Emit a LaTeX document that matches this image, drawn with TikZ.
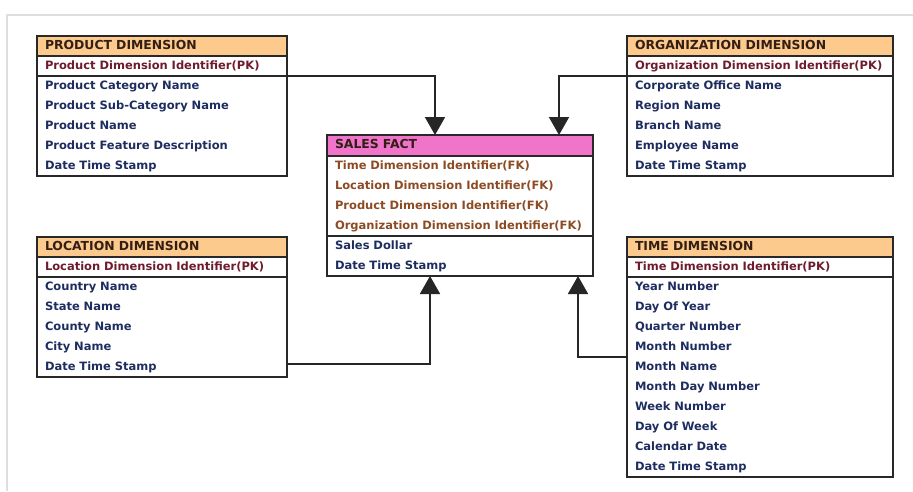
\documentclass[tikz,border=0pt]{standalone}
\usepackage{fontspec}
\setmainfont{DejaVu Sans}
\usetikzlibrary{arrows.meta,fit,calc}

\definecolor{edge}{RGB}{40,40,40}
\definecolor{dimhead}{RGB}{252,202,140}
\definecolor{facthead}{RGB}{240,116,202}
\definecolor{headtext}{RGB}{50,30,20}
\definecolor{pktext}{RGB}{110,28,45}
\definecolor{fktext}{RGB}{140,75,35}
\definecolor{fieldtext}{RGB}{30,45,95}
\definecolor{pageline}{RGB}{222,222,222}

\begin{document}
\begin{tikzpicture}[x=1pt,y=-1pt,
  font=\bfseries\fontsize{11.5}{12}\selectfont,
  cell/.style={anchor=north west, minimum height=20pt, inner xsep=8pt,
    inner ysep=0pt, outer sep=0pt, align=left, text height=8.5pt, text depth=2.5pt},
  hdr/.style={cell, draw=edge, line width=1.2pt, fill=dimhead, text=headtext,
    font=\bfseries\fontsize{12.4}{12}\selectfont},
  facthdr/.style={hdr, fill=facthead, minimum height=21pt},
  pk/.style={cell, text=pktext},
  fk/.style={cell, text=fktext},
  fld/.style={cell, text=fieldtext},
  tbl/.style={draw=edge, line width=1.8pt, inner sep=0pt, outer sep=0pt},
  rule/.style={draw=edge, line width=1.5pt},
  link/.style={draw=black!85, line width=1.8pt,
    -{Triangle[width=20pt,length=18pt]}},
  pageframe/.style={draw=pageline, line width=1.6pt}
]
\useasboundingbox (0,0) rectangle (913,491);
\draw[pageframe] (7,491) -- (7,15) -- (913,15);

% Product dimension
\node[hdr, text width=234pt] (pH) at (37,36) {PRODUCT DIMENSION};
\node[pk,  text width=234pt] (pK) at (pH.south west) {Product Dimension Identifier(PK)};
\node[fld, text width=234pt] (p1) at (pK.south west) {Product Category Name};
\node[fld, text width=234pt] (p2) at (p1.south west) {Product Sub-Category Name};
\node[fld, text width=234pt] (p3) at (p2.south west) {Product Name};
\node[fld, text width=234pt] (p4) at (p3.south west) {Product Feature Description};
\node[fld, text width=234pt] (p5) at (p4.south west) {Date Time Stamp};
\node[tbl, fit=(pH)(p5)] (prod) {};
\draw[rule] (pK.south west) -- (pK.south east);

% Organization dimension
\node[hdr, text width=250pt] (oH) at (627,36) {ORGANIZATION DIMENSION};
\node[pk,  text width=250pt] (oK) at (oH.south west) {Organization Dimension Identifier(PK)};
\node[fld, text width=250pt] (o1) at (oK.south west) {Corporate Office Name};
\node[fld, text width=250pt] (o2) at (o1.south west) {Region Name};
\node[fld, text width=250pt] (o3) at (o2.south west) {Branch Name};
\node[fld, text width=250pt] (o4) at (o3.south west) {Employee Name};
\node[fld, text width=250pt] (o5) at (o4.south west) {Date Time Stamp};
\node[tbl, fit=(oH)(o5)] (org) {};
\draw[rule] (oK.south west) -- (oK.south east);

% Sales fact
\node[facthdr, text width=250pt] (sH) at (327,135) {SALES FACT};
\node[fk,  text width=250pt] (s1) at (sH.south west) {Time Dimension Identifier(FK)};
\node[fk,  text width=250pt] (s2) at (s1.south west) {Location Dimension Identifier(FK)};
\node[fk,  text width=250pt] (s3) at (s2.south west) {Product Dimension Identifier(FK)};
\node[fk,  text width=250pt] (s4) at (s3.south west) {Organization Dimension Identifier(FK)};
\node[fld, text width=250pt] (s5) at (s4.south west) {Sales Dollar};
\node[fld, text width=250pt] (s6) at (s5.south west) {Date Time Stamp};
\node[tbl, fit=(sH)(s6)] (sales) {};
\draw[rule] (s4.south west) -- (s4.south east);

% Location dimension
\node[hdr, text width=234pt] (lH) at (37,237) {LOCATION DIMENSION};
\node[pk,  text width=234pt] (lK) at (lH.south west) {Location Dimension Identifier(PK)};
\node[fld, text width=234pt] (l1) at (lK.south west) {Country Name};
\node[fld, text width=234pt] (l2) at (l1.south west) {State Name};
\node[fld, text width=234pt] (l3) at (l2.south west) {County Name};
\node[fld, text width=234pt] (l4) at (l3.south west) {City Name};
\node[fld, text width=234pt] (l5) at (l4.south west) {Date Time Stamp};
\node[tbl, fit=(lH)(l5)] (loc) {};
\draw[rule] (lK.south west) -- (lK.south east);

% Time dimension
\node[hdr, text width=250pt] (tH) at (627,237) {TIME DIMENSION};
\node[pk,  text width=250pt] (tK) at (tH.south west) {Time Dimension Identifier(PK)};
\node[fld, text width=250pt] (t1) at (tK.south west) {Year Number};
\node[fld, text width=250pt] (t2) at (t1.south west) {Day Of Year};
\node[fld, text width=250pt] (t3) at (t2.south west) {Quarter Number};
\node[fld, text width=250pt] (t4) at (t3.south west) {Month Number};
\node[fld, text width=250pt] (t5) at (t4.south west) {Month Name};
\node[fld, text width=250pt] (t6) at (t5.south west) {Month Day Number};
\node[fld, text width=250pt] (t7) at (t6.south west) {Week Number};
\node[fld, text width=250pt] (t8) at (t7.south west) {Day Of Week};
\node[fld, text width=250pt] (t9) at (t8.south west) {Calendar Date};
\node[fld, text width=250pt] (t10) at (t9.south west) {Date Time Stamp};
\node[tbl, fit=(tH)(t10)] (time) {};
\draw[rule] (tK.south west) -- (tK.south east);

% Dimension keys into the fact table
\draw[link] (pK.south east) -| ($(sales.north west)+(108,0)$);
\draw[link] (oK.south west) -| ($(sales.north west)+(232,0)$);
\draw[link] ($(l5.east)+(0,-3)$) -| ($(sales.south west)+(103,0)$);
\draw[link] (t4.south west) -| ($(sales.south west)+(251,0)$);
\end{tikzpicture}
\end{document}
